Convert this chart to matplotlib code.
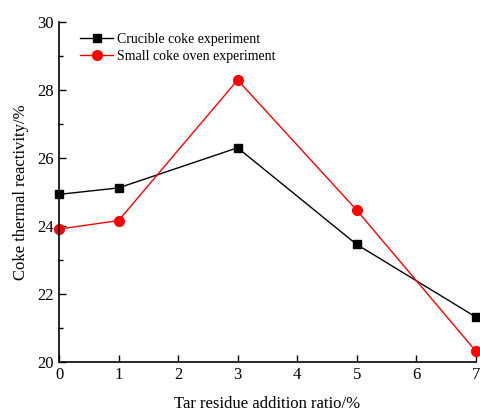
import matplotlib
matplotlib.use("Agg")
import matplotlib.pyplot as plt
from matplotlib.ticker import MultipleLocator

plt.rcParams["font.family"] = ["Liberation Serif", "DejaVu Serif"]

ratio = [0, 1, 3, 5, 7]
crucible = [24.93, 25.12, 26.30, 23.46, 21.33]
small_oven = [23.91, 24.16, 28.29, 24.47, 20.33]

fig = plt.figure(figsize=(4.8, 4.12), dpi=100)
ax = fig.add_axes([0.123, 0.121, 0.868, 0.826])

ax.plot(ratio, crucible, color="#000000", marker="s", markersize=6, linewidth=1,
        label="Crucible coke experiment", clip_on=False)
ax.plot(ratio, small_oven, color="#ff0000", marker="o", markersize=7, linewidth=1,
        label="Small coke oven experiment", clip_on=False)

ax.set_xlim(0, 7)
ax.set_ylim(20, 30)
ax.xaxis.set_major_locator(MultipleLocator(1))
ax.yaxis.set_major_locator(MultipleLocator(2))
ax.yaxis.set_minor_locator(MultipleLocator(1))
ax.tick_params(direction="in", labelsize=12, width=1, length=5)
ax.tick_params(which="minor", direction="in", length=3, width=1)
ax.spines["top"].set_visible(False)
ax.spines["right"].set_visible(False)
ax.spines["left"].set_linewidth(1.2)
ax.spines["bottom"].set_linewidth(1.2)

ax.set_xlabel("Tar residue addition ratio/%", fontsize=12, labelpad=9)
ax.set_ylabel("Coke thermal reactivity/%", fontsize=12, labelpad=6)

ax.legend(loc="upper left", bbox_to_anchor=(0.02, 1.005), frameon=False, fontsize=10,
          handlelength=2.4, handletextpad=0.3, labelspacing=0.3)

fig.savefig("out.png")
